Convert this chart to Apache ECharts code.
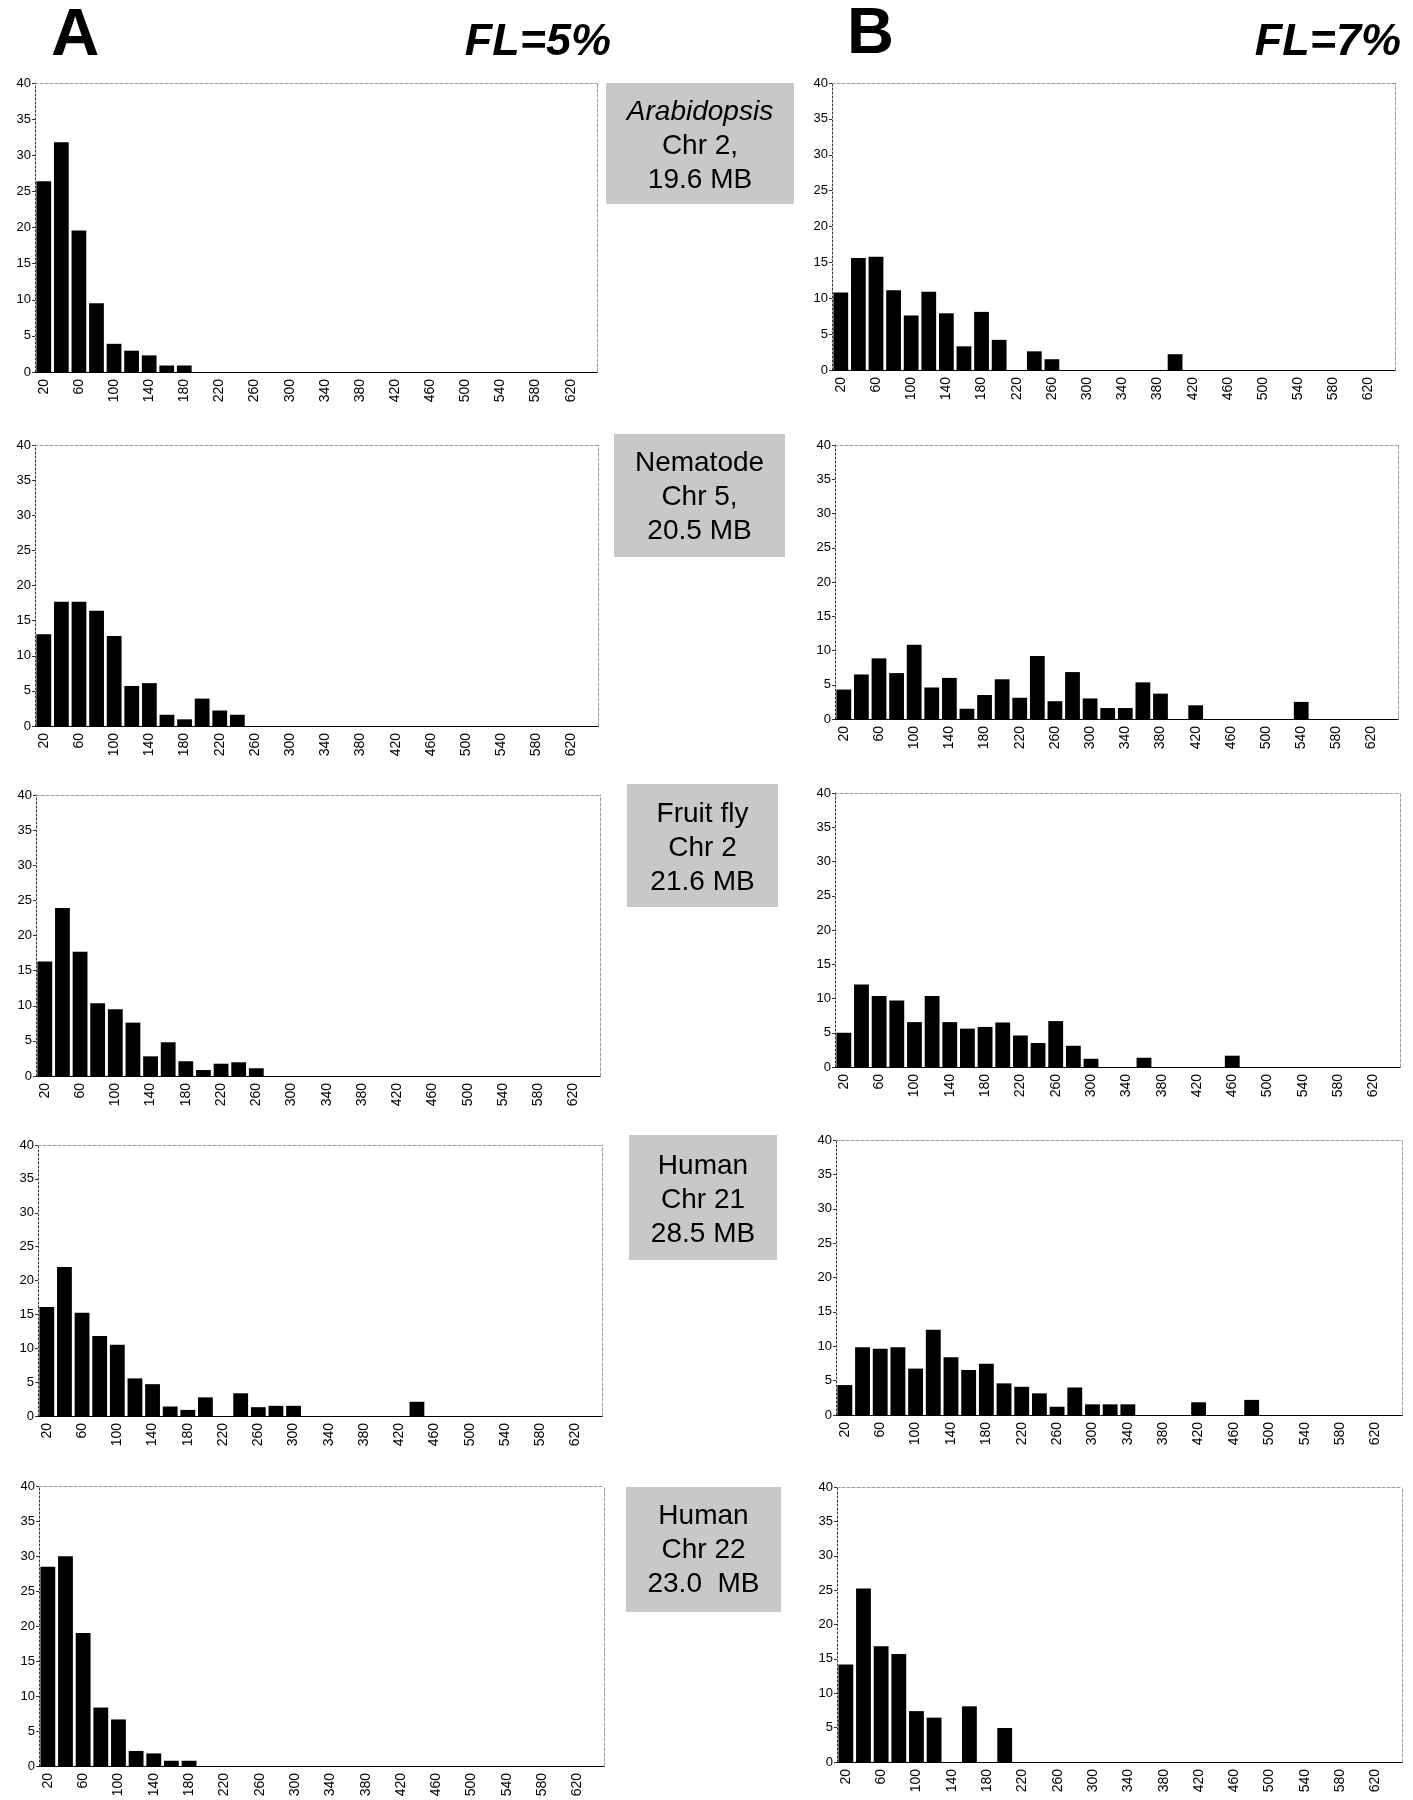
<!DOCTYPE html>
<html>
<head>
<meta charset="utf-8">
<title>FL histograms</title>
<script src="https://cdn.jsdelivr.net/npm/echarts@6/dist/echarts.min.js"></script>
<style>
	body { margin: 0; background: #fff; }
	#main { width: 1413px; height: 1800px; }
</style>
</head>
<body>
<div id="main"></div>
<script>
var FONT = '"Liberation Sans", Arial, Helvetica, sans-serif';

// bin labels (x axis categories)
var bins = ['20', '40', '60', '80', '100', '120', '140', '160', '180', '200',
	'220', '240', '260', '280', '300', '320', '340', '360', '380', '400',
	'420', '440', '460', '480', '500', '520', '540', '560', '580', '600',
	'620', '640'];
var yTicks = { min: 0, max: 40, step: 5 };

// FL=5% (column A)
var arab5 = [26.4, 31.8, 19.6, 9.5, 3.9, 2.95, 2.3, 0.9, 0.9, 0,
	0, 0, 0, 0, 0, 0, 0, 0, 0, 0,
	0, 0, 0, 0, 0, 0, 0, 0, 0, 0,
	0, 0];
var nema5 = [13.05, 17.7, 17.7, 16.4, 12.8, 5.7, 6.1, 1.6, 0.95, 3.9,
	2.2, 1.6, 0, 0, 0, 0, 0, 0, 0, 0,
	0, 0, 0, 0, 0, 0, 0, 0, 0, 0,
	0, 0];
var fly5 = [16.3, 23.9, 17.7, 10.35, 9.5, 7.6, 2.8, 4.8, 2.1, 0.85,
	1.75, 1.95, 1.1, 0, 0, 0, 0, 0, 0, 0,
	0, 0, 0, 0, 0, 0, 0, 0, 0, 0,
	0, 0];
var hum21_5 = [16.1, 22.0, 15.25, 11.8, 10.5, 5.55, 4.7, 1.4, 0.9, 2.75,
	0, 3.35, 1.3, 1.5, 1.5, 0, 0, 0, 0, 0,
	0, 2.1, 0, 0, 0, 0, 0, 0, 0, 0,
	0, 0];
var hum22_5 = [28.45, 29.95, 19.0, 8.35, 6.65, 2.15, 1.8, 0.75, 0.75, 0,
	0, 0, 0, 0, 0, 0, 0, 0, 0, 0,
	0, 0, 0, 0, 0, 0, 0, 0, 0, 0,
	0, 0];

// FL=7% (column B)
var arab7 = [10.8, 15.6, 15.8, 11.1, 7.6, 10.9, 7.9, 3.3, 8.1, 4.2,
	0, 2.6, 1.5, 0, 0, 0, 0, 0, 0, 2.2,
	0, 0, 0, 0, 0, 0, 0, 0, 0, 0,
	0, 0];
var nema7 = [4.3, 6.5, 8.85, 6.7, 10.85, 4.6, 6.0, 1.5, 3.5, 5.8,
	3.1, 9.2, 2.6, 6.85, 3.0, 1.6, 1.6, 5.35, 3.7, 0,
	2.0, 0, 0, 0, 0, 0, 2.5, 0, 0, 0,
	0, 0];
var fly7 = [5.0, 12.05, 10.35, 9.7, 6.55, 10.35, 6.55, 5.6, 5.85, 6.5,
	4.6, 3.5, 6.7, 3.1, 1.2, 0, 0, 1.35, 0, 0,
	0, 0, 1.65, 0, 0, 0, 0, 0, 0, 0,
	0, 0];
var hum21_7 = [4.35, 9.85, 9.65, 9.85, 6.75, 12.4, 8.4, 6.55, 7.45, 4.6,
	4.1, 3.15, 1.2, 4.0, 1.55, 1.55, 1.55, 0, 0, 0,
	1.85, 0, 0, 2.2, 0, 0, 0, 0, 0, 0,
	0, 0];
var hum22_7 = [14.2, 25.25, 16.85, 15.7, 7.4, 6.45, 0, 8.1, 0, 4.95,
	0, 0, 0, 0, 0, 0, 0, 0, 0, 0,
	0, 0, 0, 0, 0, 0, 0, 0, 0, 0,
	0, 0];

// chromosome captions
var captions = [
	['{it|Arabidopsis}', 'Chr 2,', '19.6 MB'],
	['Nematode', 'Chr 5,', '20.5 MB'],
	['Fruit fly', 'Chr 2', '21.6 MB'],
	['Human', 'Chr 21', '28.5 MB'],
	['Human', 'Chr 22', '23.0  MB']
];

/*
 panel layout: [left, top, width, height] in px
 */
var PANELS = [
	{ data: arab5,   box: [35, 83, 562, 289] },
	{ data: arab7,   box: [832, 83, 563, 287] },
	{ data: nema5,   box: [35, 445, 563, 281] },
	{ data: nema7,   box: [835, 445, 563, 274] },
	{ data: fly5,    box: [36, 795, 564, 281] },
	{ data: fly7,    box: [835, 793, 565, 274] },
	{ data: hum21_5, box: [38, 1145, 564, 271] },
	{ data: hum21_7, box: [836, 1140, 566, 275] },
	{ data: hum22_5, box: [39, 1486, 565, 280] },
	{ data: hum22_7, box: [837, 1487, 565, 275] }
];
// caption boxes: [x, y, w, h, textCenterY]
var CAPTION_BOX = [
	[606, 83, 188, 121, 146],
	[614, 434, 171, 123, 497],
	[627, 784, 151, 123, 848],
	[629, 1135, 148, 125, 1200],
	[626, 1487, 155, 125, 1550]
];

function borderAxis(gridIndex, pos) {
	return {
		gridIndex: gridIndex,
		type: 'value',
		position: pos,
		min: 0,
		max: 1,
		axisLine: { show: true, onZero: false, lineStyle: { color: '#9a9a9a', width: 1, type: [3, 2] } },
		axisTick: { show: false },
		axisLabel: { show: false },
		splitLine: { show: false }
	};
}

function buildOption() {
	var grids = [], xAxes = [], yAxes = [], series = [], graphics = [];
	for (var i = 0; i < PANELS.length; i++) {
		var b = PANELS[i].box;
		grids.push({ left: b[0], top: b[1], width: b[2], height: b[3], outerBoundsMode: 'none' });
		xAxes.push({
			gridIndex: i,
			type: 'category',
			data: bins,
			position: 'bottom',
			boundaryGap: true,
			axisLine: { lineStyle: { color: '#000', width: 1.2 } },
			axisTick: { interval: 0, length: 4, lineStyle: { color: '#000' } },
			axisLabel: { interval: 1, rotate: 90, margin: 7, fontSize: 14, color: '#000', fontFamily: FONT }
		});
		xAxes.push(borderAxis(i, 'top'));
		yAxes.push({
			gridIndex: i,
			type: 'value',
			position: 'left',
			min: yTicks.min,
			max: yTicks.max,
			interval: yTicks.step,
			axisLine: { show: true, lineStyle: { color: '#333', width: 1, type: [2, 2] } },
			axisTick: { show: true, length: 3, lineStyle: { color: '#333' } },
			axisLabel: { margin: 4, fontSize: 13, color: '#000', fontFamily: FONT },
			splitLine: { show: false }
		});
		yAxes.push(borderAxis(i, 'right'));
		series.push({
			type: 'bar',
			xAxisIndex: 2 * i,
			yAxisIndex: 2 * i,
			data: PANELS[i].data,
			barWidth: '84%',
			itemStyle: { color: '#000' },
			silent: true
		});
	}

	// panel letters and FL headers
	graphics.push({ type: 'text', x: 51, y: 37, style: { text: 'A', font: 'bold 67px ' + FONT, fill: '#000', verticalAlign: 'middle' } });
	graphics.push({ type: 'text', x: 611, y: 43, style: { text: 'FL=5%', font: 'italic bold 45px ' + FONT, fill: '#000', align: 'right', verticalAlign: 'middle' } });
	graphics.push({ type: 'text', x: 847, y: 35, style: { text: 'B', font: 'bold 65px ' + FONT, fill: '#000', verticalAlign: 'middle' } });
	graphics.push({ type: 'text', x: 1401, y: 43, style: { text: 'FL=7%', font: 'italic bold 45px ' + FONT, fill: '#000', align: 'right', verticalAlign: 'middle' } });

	for (var k = 0; k < captions.length; k++) {
		var c = CAPTION_BOX[k];
		graphics.push({
			type: 'rect',
			shape: { x: c[0], y: c[1], width: c[2], height: c[3] },
			style: { fill: '#c8c8c8' },
			silent: true
		});
		graphics.push({
			type: 'text',
			x: c[0] + c[2] / 2,
			y: c[4],
			style: {
				text: captions[k].join('\n'),
				fontFamily: FONT,
				fontSize: 28,
				lineHeight: 34,
				fill: '#000',
				align: 'center',
				verticalAlign: 'middle',
				rich: {
					it: { fontStyle: 'italic', fontFamily: FONT, fontSize: 28, lineHeight: 34, fill: '#000' }
				}
			},
			silent: true
		});
	}

	return {
		backgroundColor: '#fff',
		animation: false,
		textStyle: { fontFamily: FONT },
		grid: grids,
		xAxis: xAxes,
		yAxis: yAxes,
		series: series,
		graphic: graphics
	};
}

var chart = echarts.init(document.getElementById('main'), null, { renderer: 'canvas' });
chart.setOption(buildOption());
</script>
</body>
</html>
